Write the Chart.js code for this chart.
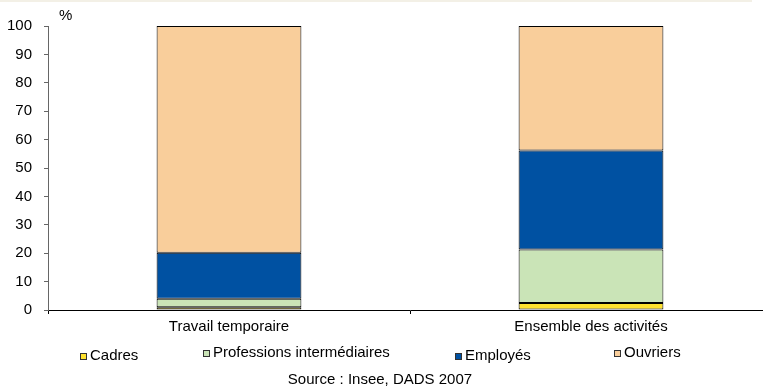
<!DOCTYPE html>
<html>
<head>
<meta charset="utf-8">
<script src="https://cdn.jsdelivr.net/npm/chart.js"></script>
<style>
  html, body { margin: 0; padding: 0; background: #fff; overflow: hidden; }
</style>
</head>
<body>
<canvas id="myChart" width="772" height="390"></canvas>
<script>
// categories and series (in %)
const categories = ['Travail temporaire', 'Ensemble des activités'];
const seriesNames = ['Cadres', 'Professions intermédiaires', 'Employés', 'Ouvriers'];
const cadres = [1.0, 2.5];
const professions = [3.0, 18.8];
const employes = [16.2, 34.9];
const ouvriers = [79.8, 43.8];
const yTicks = [0, 10, 20, 30, 40, 50, 60, 70, 80, 90, 100];
const unitLabel = '%';
const sourceText = 'Source : Insee, DADS 2007';

const colors = ['#FFE22E', '#CAE4B7', '#0051A2', '#F9CE9B'];
// legend is laid out like the excel one, items are not evenly spaced
const legendPos = [
  { x: 80, y: 356 },
  { x: 203, y: 353 },
  { x: 455, y: 356 },
  { x: 614, y: 353 }
];

const FONT = { family: '"Liberation Sans", Arial, sans-serif', size: 15 };

const extras = {
  id: 'extras',
  afterDraw(chart) {
    const ctx = chart.ctx;
    ctx.save();
    // thin beige line at the very top
    ctx.fillStyle = '#F3F0E6';
    ctx.fillRect(0, 0, 752, 2);

    ctx.font = FONT.size + 'px ' + FONT.family;
    ctx.fillStyle = '#000';
    ctx.textBaseline = 'middle';
    ctx.textAlign = 'left';
    ctx.fillText(unitLabel, 59, 16);

    chart.data.datasets.forEach((ds, i) => {
      const p = legendPos[i];
      ctx.fillStyle = ds.backgroundColor;
      ctx.fillRect(p.x, p.y - 3, 7, 7);
      ctx.strokeStyle = '#333';
      ctx.lineWidth = 1;
      ctx.strokeRect(p.x + 0.5, p.y - 2.5, 6, 6);
      ctx.fillStyle = '#000';
      ctx.fillText(ds.label, p.x + 10, p.y);
    });

    ctx.textAlign = 'center';
    ctx.fillText(sourceText, 380, 380);
    ctx.restore();
  }
};

const series = [cadres, professions, employes, ouvriers];
const datasets = series.map((vals, i) => ({
  label: seriesNames[i],
  data: vals,
  backgroundColor: colors[i],
  borderColor: '#000',
  borderWidth: 1,
  borderSkipped: false,
  barPercentage: 0.4,
  categoryPercentage: 1
}));

const ctx = document.getElementById('myChart').getContext('2d');
new Chart(ctx, {
  type: 'bar',
  data: { labels: categories, datasets: datasets },
  options: {
    responsive: false,
    animation: false,
    devicePixelRatio: 1,
    layout: { padding: { top: 26, right: 0, bottom: 50, left: 0 } },
    plugins: {
      legend: { display: false },
      tooltip: { enabled: false }
    },
    scales: {
      x: {
        stacked: true,
        grid: { display: true, drawOnChartArea: false, drawTicks: true, tickLength: 4, offset: true, color: '#000' },
        border: { display: true, color: '#000' },
        ticks: { color: '#000', font: FONT, padding: 4, maxRotation: 0 },
        afterFit(s) { s.height = 30; s.paddingLeft = 0; s.paddingRight = 0; }
      },
      y: {
        stacked: true,
        min: 0,
        max: 100,
        afterBuildTicks(s) { s.ticks = yTicks.map(v => ({ value: v })); },
        ticks: { color: '#000', font: FONT, padding: 12 },
        grid: { display: true, drawOnChartArea: false, drawTicks: true, tickLength: 4, color: '#666' },
        border: { display: true, color: '#666' },
        afterFit(s) { s.width = 48; s.paddingTop = 0; s.paddingBottom = 0; }
      }
    }
  },
  plugins: [extras]
});
</script>
</body>
</html>
